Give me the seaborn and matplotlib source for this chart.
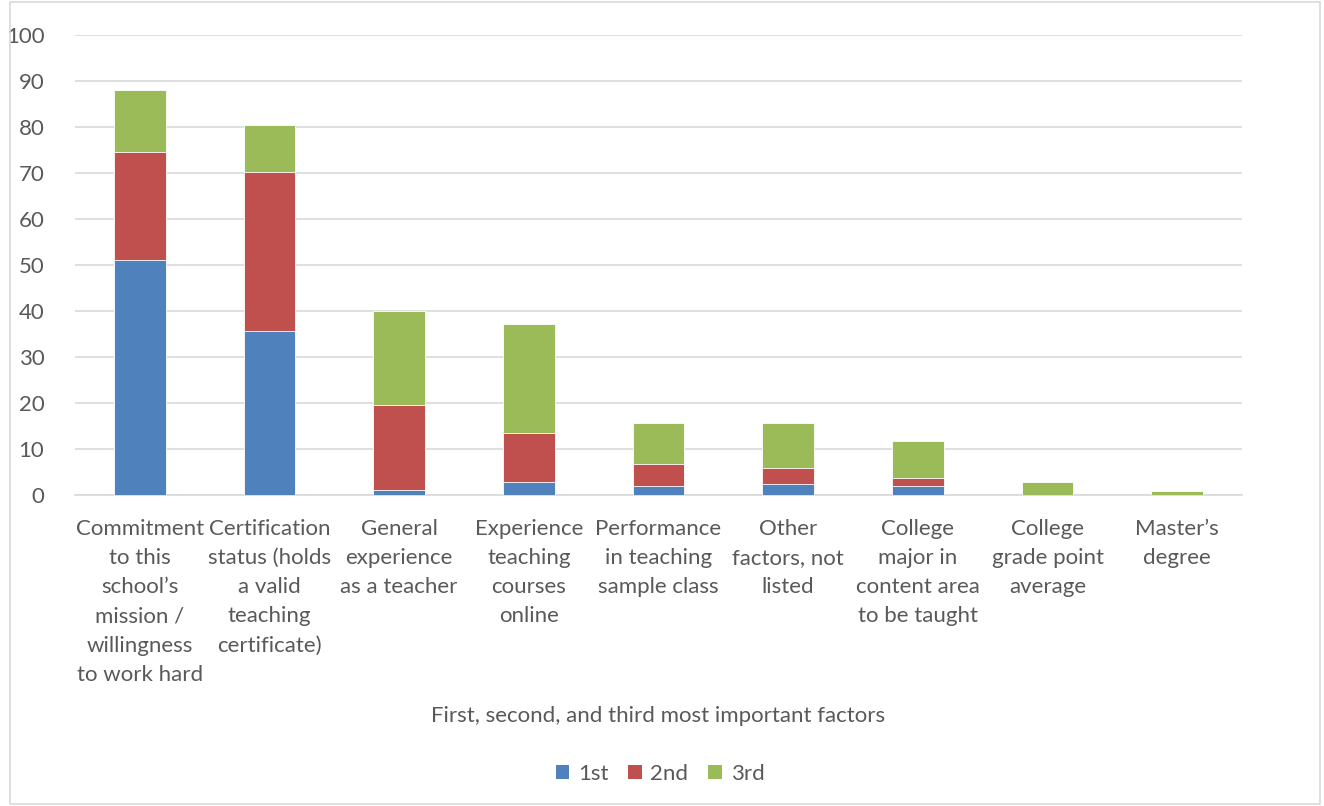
import numpy as np
import pandas as pd
import matplotlib.pyplot as plt
import seaborn as sns
from matplotlib.patches import Rectangle, Patch

# Chart data
factors = ['Commitment\nto this\nschool\u2019s\nmission /\nwillingness\nto work hard',
           'Certification\nstatus (holds\na valid\nteaching\ncertificate)',
           'General\nexperience\nas a teacher',
           'Experience\nteaching\ncourses\nonline',
           'Performance\nin teaching\nsample class',
           'Other\nfactors, not\nlisted',
           'College\nmajor in\ncontent area\nto be taught',
           'College\ngrade point\naverage',
           'Master\u2019s\ndegree']
first = [51.1, 35.7, 1.1, 2.8, 2.0, 2.5, 2.0, 0.0, 0.0]
second = [23.5, 34.5, 18.5, 10.7, 4.8, 3.4, 1.8, 0.0, 0.0]
third = [13.4, 10.2, 20.4, 23.7, 8.9, 9.8, 7.9, 2.8, 0.9]
series = ['1st', '2nd', '3rd']
colors = ['#4F81BD', '#C0504D', '#9BBB59']

# Stacking by overlaying cumulative totals
df = pd.DataFrame({'factor': factors, '1st': first, '2nd': second, '3rd': third})
df['cum1'] = df['1st']
df['cum2'] = df['1st'] + df['2nd']
df['cum3'] = df['cum2'] + df['3rd']

sns.set_style('white')
plt.rcParams['font.family'] = ['Lato', 'DejaVu Sans']
text_col = '#595959'
fs = 16

fig = plt.figure(figsize=(13.24, 8.06), dpi=100)
ax = fig.add_axes([75 / 1324, 1 - 495 / 806, (1242 - 75) / 1324, (495 - 35) / 806])

for col, c in zip(['cum3', 'cum2', 'cum1'], colors[::-1]):
    sns.barplot(data=df, x='factor', y=col, color=c, width=0.4, saturation=1,
                edgecolor='white', linewidth=0.6, ax=ax, zorder=3)

ax.set_ylim(0, 100)
ax.set_xlim(-0.5, 8.5)
ax.set_yticks(range(0, 101, 10))
ax.yaxis.grid(True, color='#d9d9d9', linewidth=1.2, zorder=0)
ax.set_axisbelow(True)
for s in ['top', 'right', 'left']:
    ax.spines[s].set_visible(False)
ax.spines['bottom'].set_color('#d9d9d9')
ax.spines['bottom'].set_linewidth(1.2)
ax.tick_params(axis='both', length=0, colors=text_col, labelsize=fs)
ax.tick_params(axis='x', pad=17)
ax.tick_params(axis='y', pad=22)
for lab in ax.get_xticklabels():
    lab.set_linespacing(1.58)
ax.set_ylabel('')
ax.set_xlabel('First, second, and third most important factors',
              fontsize=fs, color=text_col, labelpad=15)

handles = [Patch(facecolor=c, edgecolor='none', label=s) for s, c in zip(series, colors)]
fig.legend(handles=handles, loc='center', bbox_to_anchor=(660 / 1324, 1 - 774 / 806),
           ncol=3, frameon=False, fontsize=fs, handlelength=0.6, handleheight=0.6,
           handletextpad=0.4, columnspacing=0.9, labelcolor=text_col)

# light frame around the whole chart
fig.patches.append(Rectangle((10 / 1324, 0.002), 1 - 14 / 1324, 1 - 0.004,
                             transform=fig.transFigure, fill=False,
                             edgecolor='#d9d9d9', linewidth=1.2))

fig.savefig('out.png', dpi=100)
